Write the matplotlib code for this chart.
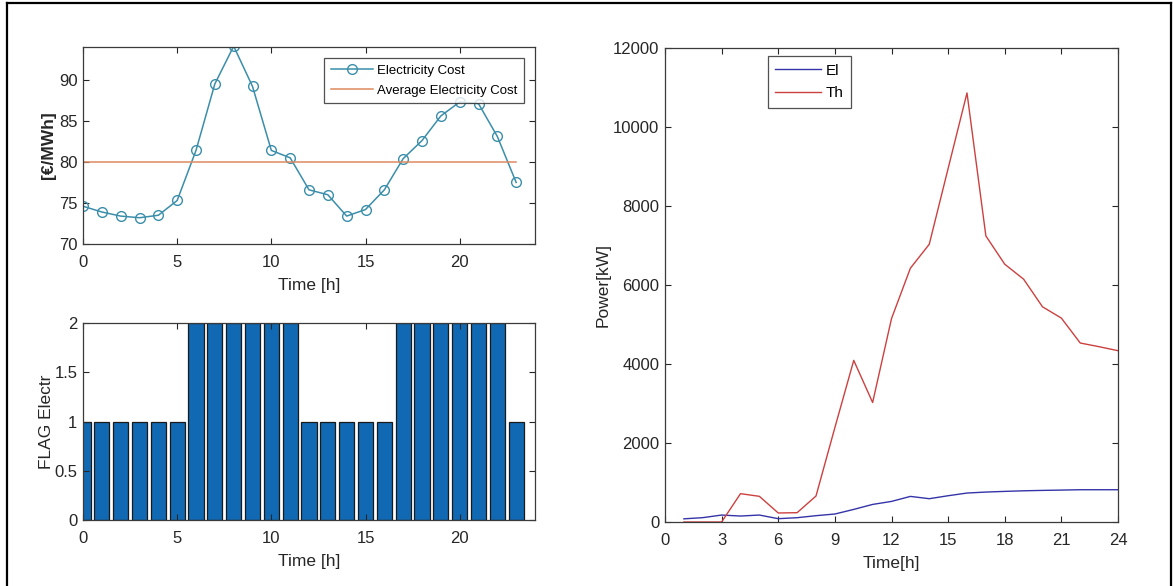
import matplotlib.pyplot as plt
from matplotlib.lines import Line2D

# Data
hours = list(range(24))
elec_cost = [74.6, 73.9, 73.4, 73.2, 73.5, 75.3, 81.4, 89.5, 94.1, 89.2,
             81.4, 80.5, 76.6, 76.0, 73.4, 74.2, 76.6, 80.4, 82.6, 85.6,
             87.3, 87.1, 83.1, 77.5]
avg_cost = 80.0
flag_electr = [1, 1, 1, 1, 1, 1, 2, 2, 2, 2, 2, 2,
               1, 1, 1, 1, 1, 2, 2, 2, 2, 2, 2, 1]

power_hours = list(range(1, 25))
power_el = [80, 110, 176, 151, 176, 84, 109, 160, 202, 319, 445, 521,
            648, 590, 665, 733, 758, 775, 790, 800, 808, 817, 817, 817]
power_th = [0, 0, 0, 717, 650, 228, 236, 658, 2390, 4092, 3025, 5149,
            6425, 7031, 8950, 10863, 7242, 6526, 6147, 5448, 5162, 4531,
            4438, 4337]

# Fonts
plt.rcParams["font.family"] = ["Liberation Sans", "DejaVu Sans"]
plt.rcParams["xtick.direction"] = "in"
plt.rcParams["ytick.direction"] = "in"
plt.rcParams["xtick.top"] = True
plt.rcParams["ytick.right"] = True

axis_color = "#3a3a3a"
text_color = "#262626"
tick_size = 12
label_size = 12.5


def style_axes(ax):
    for s in ax.spines.values():
        s.set_color(axis_color)
        s.set_linewidth(0.9)
    ax.tick_params(colors=text_color, labelsize=tick_size, length=4,
                   width=0.8)
    ax.tick_params(axis="x", pad=8)
    ax.tick_params(axis="y", pad=4)


fig = plt.figure(figsize=(11.73, 5.86), dpi=100)
W, H = 1173, 586


def px_axes(x0, x1, y0, y1):
    return fig.add_axes([x0 / W, 1 - y1 / H, (x1 - x0) / W, (y1 - y0) / H])


# Top-left: electricity cost
ax1 = px_axes(83, 535, 47, 244)
ax1.plot(hours, elec_cost, color="#3b8eaa", lw=1.1, marker="o",
         markersize=7, markerfacecolor="none", markeredgewidth=1.0,
         label="Electricity Cost")
ax1.plot([hours[0], hours[-1]], [avg_cost, avg_cost], color="#de8a60",
         lw=1.1, label="Average Electricity Cost")
ax1.set_xlim(0, 24)
ax1.set_ylim(70, 94)
ax1.set_xticks([0, 5, 10, 15, 20])
ax1.set_yticks([70, 75, 80, 85, 90])
ax1.set_xlabel("Time [h]", fontsize=label_size, color=text_color, labelpad=6)
ax1.set_ylabel("[€/MWh]", fontsize=label_size, color=text_color,
               fontweight="bold", labelpad=2)
style_axes(ax1)
leg1 = ax1.legend(loc="upper right", bbox_to_anchor=(0.975, 0.945),
                  fontsize=9.5, frameon=True, fancybox=False,
                  borderaxespad=0, handlelength=3.2, borderpad=0.5,
                  labelspacing=0.6, handletextpad=0.3)
leg1.get_frame().set_edgecolor(text_color)
leg1.get_frame().set_linewidth(0.9)

# Bottom-left: flag bars
ax2 = px_axes(83, 535, 323, 520)
ax2.bar(hours, flag_electr, width=0.8, color="#1069b2", edgecolor="#1a1a1a",
        linewidth=0.9)
ax2.set_xlim(0, 24)
ax2.set_ylim(0, 2)
ax2.set_xticks([0, 5, 10, 15, 20])
ax2.set_yticks([0, 0.5, 1, 1.5, 2])
ax2.set_yticklabels(["0", "0.5", "1", "1.5", "2"])
ax2.set_xlabel("Time [h]", fontsize=label_size, color=text_color, labelpad=6)
ax2.set_ylabel("FLAG Electr", fontsize=label_size, color=text_color,
               labelpad=0)
style_axes(ax2)

# Right: power
ax3 = px_axes(665, 1118, 48, 522)
ax3.plot(power_hours, power_el, color="#3434a8", lw=1.0, label="El")
ax3.plot(power_hours, power_th, color="#cc4040", lw=1.0, label="Th")
ax3.set_xlim(0, 24)
ax3.set_ylim(0, 12000)
ax3.set_xticks(list(range(0, 25, 3)))
ax3.set_yticks(list(range(0, 12001, 2000)))
ax3.set_xlabel("Time[h]", fontsize=label_size, color=text_color, labelpad=6)
ax3.set_ylabel("Power[kW]", fontsize=label_size, color=text_color,
               labelpad=2)
style_axes(ax3)
leg3 = ax3.legend(loc="upper left", bbox_to_anchor=(0.227, 0.983),
                  fontsize=11, frameon=True, fancybox=False,
                  borderaxespad=0, handlelength=3.0, borderpad=0.5,
                  labelspacing=0.55, handletextpad=0.3)
leg3.get_frame().set_edgecolor(text_color)
leg3.get_frame().set_linewidth(0.9)

# Outer frame (left, top, right)
for xs, ys in [((7, 7), (3, 586)), ((7, 1171), (3, 3)),
               ((1171, 1171), (3, 586))]:
    fig.add_artist(Line2D([x / W for x in xs], [1 - y / H for y in ys],
                          color="black", lw=1.6))

plt.savefig("out.png", dpi=100)
